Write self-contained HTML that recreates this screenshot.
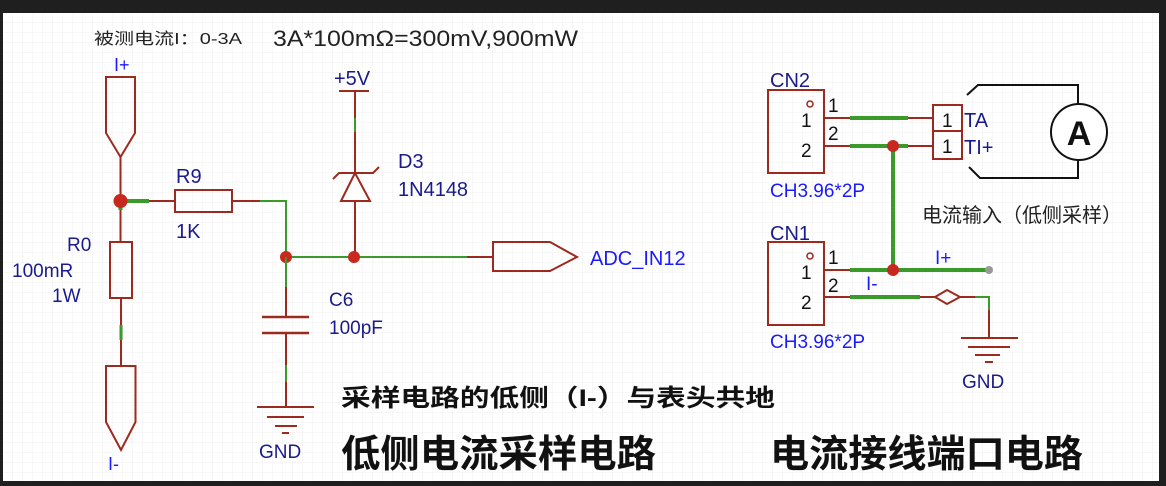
<!DOCTYPE html>
<html><head><meta charset="utf-8"><style>
html,body{margin:0;padding:0;background:#1f1f1f;}
svg{display:block;}
text{font-family:"Liberation Sans","Noto Sans CJK SC",sans-serif;}
</style></head><body>
<svg width="1166" height="486" viewBox="0 0 1166 486" xmlns="http://www.w3.org/2000/svg">
<defs>
<pattern id="g" width="10" height="10" patternUnits="userSpaceOnUse" x="3" y="3">
<path d="M10 0V10M0 10H10" stroke="#efefef" stroke-width="1" fill="none"/>
</pattern>
</defs>
<rect x="0" y="0" width="1166" height="486" fill="#1f1f1f"/>
<rect x="3" y="13" width="1156" height="468" fill="#fff"/>
<rect x="3" y="13" width="1156" height="468" fill="url(#g)"/>

<text x="94" y="44" font-size="16" fill="#222" textLength="148" lengthAdjust="spacingAndGlyphs">被测电流I：0-3A</text>
<text x="273" y="46" font-size="22" fill="#222" textLength="305" lengthAdjust="spacingAndGlyphs">3A*100mΩ=300mV,900mW</text>

<!-- I+ port -->
<text x="114" y="71" font-size="18" fill="#1a1aff">I+</text>
<path d="M106 133V77H135V133L120.5 157Z" fill="none" stroke="#9c2a1e" stroke-width="2"/>
<path d="M120.5 157V195" stroke="#9c2a1e" stroke-width="2"/>
<path d="M120.5 195V210" stroke="#3a9a2a" stroke-width="4"/>
<path d="M120.5 210V242" stroke="#9c2a1e" stroke-width="2"/>
<path d="M120.5 201H149" stroke="#3a9a2a" stroke-width="4"/>
<path d="M149 201H175" stroke="#9c2a1e" stroke-width="2"/>
<rect x="175" y="190" width="57" height="22" fill="none" stroke="#9c2a1e" stroke-width="2"/>
<path d="M232 201H260" stroke="#9c2a1e" stroke-width="2"/>
<path d="M260 201H286V257" stroke="#3a9a2a" stroke-width="2" fill="none"/>
<circle cx="120.5" cy="201" r="7" fill="#c8281e"/>
<text x="176" y="183" font-size="20" fill="#1a1a8c">R9</text>
<text x="176" y="238" font-size="20" fill="#1a1a8c">1K</text>

<!-- R0 -->
<rect x="110" y="242" width="22" height="56" fill="none" stroke="#9c2a1e" stroke-width="2"/>
<path d="M121 298V325" stroke="#9c2a1e" stroke-width="2"/>
<path d="M121 325V340" stroke="#3a9a2a" stroke-width="3"/>
<path d="M121 340V366" stroke="#9c2a1e" stroke-width="2"/>
<path d="M106 366H135.5V422L121 450L106 422Z" fill="none" stroke="#9c2a1e" stroke-width="2"/>
<text x="67" y="251" font-size="19" fill="#1a1a8c">R0</text>
<text x="12" y="277" font-size="19" fill="#1a1a8c">100mR</text>
<text x="52" y="302" font-size="19" fill="#1a1a8c">1W</text>
<text x="108" y="470" font-size="18" fill="#1a1aff">I-</text>

<!-- +5V & zener -->
<text x="334" y="85" font-size="20" fill="#1a1a8c">+5V</text>
<path d="M339 91H369" stroke="#9c2a1e" stroke-width="2"/>
<path d="M355 91V118" stroke="#9c2a1e" stroke-width="2"/>
<path d="M355 118V132" stroke="#3a9a2a" stroke-width="2"/>
<path d="M355 132V257" stroke="#9c2a1e" stroke-width="2"/>
<path d="M333 179L339 173H373L379 167" fill="none" stroke="#9c2a1e" stroke-width="2"/>
<path d="M355 173L341 201H370Z" fill="#fff" stroke="#9c2a1e" stroke-width="2"/>
<text x="398" y="168" font-size="20" fill="#1a1a8c">D3</text>
<text x="398" y="196" font-size="20" fill="#1a1a8c">1N4148</text>

<!-- ADC wire -->
<path d="M286 257H467" stroke="#3a9a2a" stroke-width="2"/>
<path d="M467 257H493" stroke="#9c2a1e" stroke-width="2"/>
<path d="M493 242H550L577 257L550 271H493Z" fill="none" stroke="#9c2a1e" stroke-width="2"/>
<text x="590" y="265" font-size="20" fill="#1a1aff">ADC_IN12</text>
<circle cx="286" cy="257" r="6" fill="#c8281e"/>
<circle cx="354" cy="257" r="6" fill="#c8281e"/>

<!-- C6 -->
<path d="M286 257V287" stroke="#3a9a2a" stroke-width="2"/>
<path d="M286 287V317M286 333V365" stroke="#9c2a1e" stroke-width="2"/>
<path d="M262 317H309M262 333H309" stroke="#9c2a1e" stroke-width="2.5"/>
<path d="M286 365V382" stroke="#3a9a2a" stroke-width="2"/>
<path d="M286 382V407" stroke="#9c2a1e" stroke-width="2"/>
<path d="M257 407H314M267 417H304M275 426H297M282 433H289" stroke="#9c2a1e" stroke-width="2"/>
<text x="329" y="306" font-size="19" fill="#1a1a8c">C6</text>
<text x="329" y="334" font-size="19" fill="#1a1a8c">100pF</text>
<text x="259" y="458" font-size="19" fill="#1a1a8c">GND</text>

<!-- bottom text -->
<text x="341" y="406" font-size="24" font-weight="bold" fill="#111" textLength="434" lengthAdjust="spacingAndGlyphs">采样电路的低侧（I-）与表头共地</text>
<text x="341" y="467" font-size="38" font-weight="bold" fill="#111" textLength="315" lengthAdjust="spacingAndGlyphs">低侧电流采样电路</text>
<text x="770" y="467" font-size="38" font-weight="bold" fill="#111" textLength="313" lengthAdjust="spacingAndGlyphs">电流接线端口电路</text>

<!-- CN2 -->
<text x="770" y="87" font-size="20" fill="#1a1a8c">CN2</text>
<rect x="768" y="90" width="56" height="83" fill="none" stroke="#9c2a1e" stroke-width="2"/>
<circle cx="810" cy="104" r="3" fill="none" stroke="#9c2a1e" stroke-width="1.5"/>
<text x="801" y="127" font-size="19" fill="#111">1</text>
<text x="801" y="157" font-size="19" fill="#111">2</text>
<text x="828" y="112" font-size="19" fill="#111">1</text>
<text x="828" y="140" font-size="19" fill="#111">2</text>
<path d="M824 118H850M908 118H933M824 146H850M908 146H933" stroke="#9c2a1e" stroke-width="2"/>
<path d="M850 118H908M850 146H908M893 146V270" stroke="#3a9a2a" stroke-width="4"/>
<rect x="933" y="105" width="29" height="26" fill="none" stroke="#9c2a1e" stroke-width="2"/>
<rect x="933" y="131" width="29" height="28" fill="none" stroke="#9c2a1e" stroke-width="2"/>
<text x="942" y="127" font-size="19" fill="#111">1</text>
<text x="942" y="153" font-size="19" fill="#111">1</text>
<text x="964" y="127" font-size="20" fill="#1a1a8c">TA</text>
<text x="964" y="154" font-size="20" fill="#1a1a8c">TI+</text>
<path d="M967 95L978 85H1078V104M969 167L980 178H1078V160" fill="none" stroke="#111" stroke-width="2"/>
<circle cx="1079" cy="132" r="28" fill="#fff" stroke="#111" stroke-width="2"/>
<text x="1079" y="145" font-size="34" font-weight="bold" text-anchor="middle" fill="#111">A</text>
<text x="770" y="197" font-size="19" fill="#1a1aff">CH3.96*2P</text>
<text x="922" y="222" font-size="20" fill="#222">电流输入（低侧采样）</text>
<circle cx="893" cy="146" r="6" fill="#c8281e"/>

<!-- CN1 -->
<text x="770" y="240" font-size="20" fill="#1a1a8c">CN1</text>
<rect x="768" y="242" width="56" height="83" fill="none" stroke="#9c2a1e" stroke-width="2"/>
<circle cx="810" cy="256" r="3" fill="none" stroke="#9c2a1e" stroke-width="1.5"/>
<text x="801" y="279" font-size="19" fill="#111">1</text>
<text x="801" y="309" font-size="19" fill="#111">2</text>
<text x="828" y="264" font-size="19" fill="#111">1</text>
<text x="828" y="292" font-size="19" fill="#111">2</text>
<path d="M824 270H850M824 297H850M920 297H935M960 297H975" stroke="#9c2a1e" stroke-width="2"/>
<path d="M850 270H988M850 297H920" stroke="#3a9a2a" stroke-width="4"/>
<path d="M975 297H989V310" stroke="#3a9a2a" stroke-width="2" fill="none"/>
<path d="M935 297L947 290L960 297L947 304Z" fill="none" stroke="#9c2a1e" stroke-width="2"/>
<path d="M989 310V338M961 338H1018M968 347H1010M975 355H1000M985 362H993" stroke="#9c2a1e" stroke-width="2"/>
<circle cx="893" cy="270" r="6" fill="#c8281e"/>
<circle cx="989" cy="270" r="4" fill="#999"/>
<text x="935" y="264" font-size="19" fill="#1a1aff">I+</text>
<text x="866" y="290" font-size="19" fill="#1a1aff">I-</text>
<text x="770" y="348" font-size="19" fill="#1a1aff">CH3.96*2P</text>
<text x="962" y="388" font-size="19" fill="#1a1a8c">GND</text>
</svg>
</body></html>
